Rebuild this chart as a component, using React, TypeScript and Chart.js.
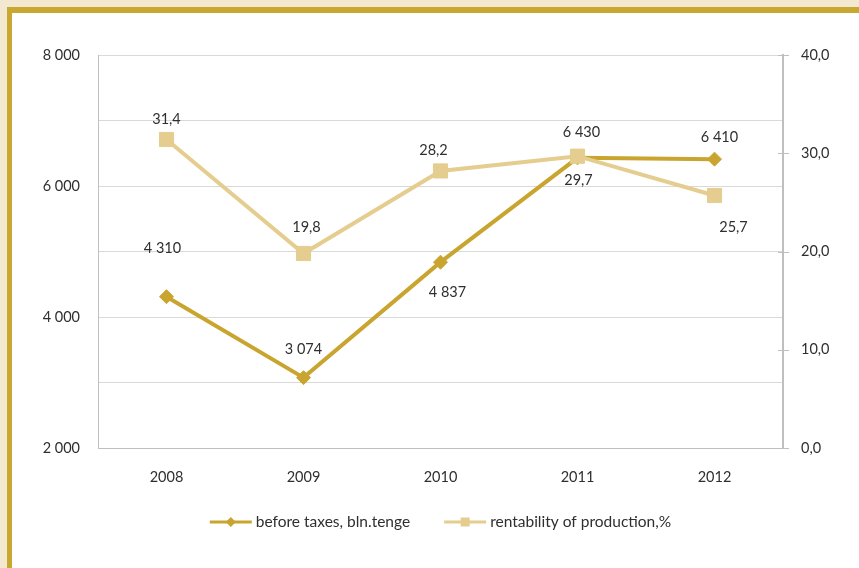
import React, { useEffect, useRef } from 'react';
import { Chart, registerables } from 'chart.js';

Chart.register(...registerables);

const years = ['2008', '2009', '2010', '2011', '2012'];
const profitBeforeTaxes = [4310, 3074, 4837, 6430, 6410];
const rentabilityPct = [31.4, 19.8, 28.2, 29.7, 25.7];
const seriesNames = ['before taxes, bln.tenge', 'rentability of production,%'];

// label offsets (px) relative to the point, style only
const profitLabelOffsets = [[-4, -48], [0, -28], [7, 30], [4, -26], [5, -22]];
const rentLabelOffsets = [[0, -20], [3, -26], [-7, -21], [1, 24], [19, 32]];

const DARK = '#C9A530';
const LIGHT = '#E4CD8E';
const TEXT = '#2f2f2f';
const FONT = 'Lato, "Noto Sans", sans-serif';

const fmtThousands = (n: number) => String(Math.round(n)).replace(/\B(?=(\d{3})+(?!\d))/g, ' ');
const fmtDec = (n: number) => n.toFixed(1).replace('.', ',');

export default function App() {
  const ref = useRef<HTMLCanvasElement | null>(null);

  useEffect(() => {
    if (!ref.current) return;

    const labelPlugin = {
      id: 'dataLabels',
      afterDatasetsDraw(chart: any) {
        const ctx = chart.ctx;
        ctx.save();
        ctx.font = `14.5px ${FONT}`;
        ctx.fillStyle = TEXT;
        ctx.textAlign = 'center';
        ctx.textBaseline = 'middle';
        chart.data.datasets.forEach((ds: any, di: number) => {
          const meta = chart.getDatasetMeta(di);
          const offs = di === 0 ? profitLabelOffsets : rentLabelOffsets;
          meta.data.forEach((el: any, i: number) => {
            const v = ds.data[i];
            const txt = di === 0 ? fmtThousands(v) : fmtDec(v);
            ctx.fillText(txt, el.x + offs[i][0], el.y + offs[i][1]);
          });
        });
        ctx.restore();
      },
      afterDraw(chart: any) {
        const ctx = chart.ctx;
        // right axis tick marks crossing the axis line
        const y1 = chart.scales.y1;
        ctx.save();
        ctx.strokeStyle = '#BFBFBF';
        ctx.lineWidth = 1;
        y1.ticks.forEach((t: any) => {
          const py = Math.round(y1.getPixelForValue(t.value)) + 0.5;
          ctx.beginPath();
          ctx.moveTo(y1.left - 5, py);
          ctx.lineTo(y1.left + 6, py);
          ctx.stroke();
        });
        // custom legend
        ctx.font = `15.5px ${FONT}`;
        ctx.textBaseline = 'middle';
        ctx.textAlign = 'left';
        const lineLen = 42;
        const gapText = 4;
        const gapItems = 34;
        const widths = seriesNames.map((s) => ctx.measureText(s).width);
        const total = widths.reduce((a, w) => a + lineLen + gapText + w, 0) + gapItems;
        const ca = chart.chartArea;
        let x = (ca.left + ca.right) / 2 - total / 2;
        const y = 522;
        seriesNames.forEach((name, i) => {
          const color = i === 0 ? DARK : LIGHT;
          ctx.strokeStyle = color;
          ctx.lineWidth = 3;
          ctx.beginPath();
          ctx.moveTo(x, y);
          ctx.lineTo(x + lineLen, y);
          ctx.stroke();
          ctx.fillStyle = color;
          const cx = x + lineLen / 2;
          if (i === 0) {
            const r = 5;
            ctx.beginPath();
            ctx.moveTo(cx - r, y);
            ctx.lineTo(cx, y - r);
            ctx.lineTo(cx + r, y);
            ctx.lineTo(cx, y + r);
            ctx.closePath();
            ctx.fill();
          } else {
            ctx.fillRect(cx - 4.5, y - 4.5, 9, 9);
          }
          ctx.fillStyle = TEXT;
          ctx.fillText(name, x + lineLen + gapText, y);
          x += lineLen + gapText + widths[i] + gapItems;
        });
        ctx.restore();
      },
    };

    const chart = new Chart(ref.current, {
      type: 'line',
      data: {
        labels: years,
        datasets: [
          {
            label: seriesNames[0],
            data: profitBeforeTaxes,
            yAxisID: 'y',
            borderColor: DARK,
            backgroundColor: DARK,
            borderWidth: 4,
            pointStyle: 'rectRot',
            pointRadius: 7,
            pointBorderWidth: 1,
            pointBorderColor: DARK,
            pointBackgroundColor: DARK,
            tension: 0,
            order: 2,
          },
          {
            label: seriesNames[1],
            data: rentabilityPct,
            yAxisID: 'y1',
            borderColor: LIGHT,
            backgroundColor: LIGHT,
            borderWidth: 4,
            pointStyle: 'rect',
            pointRadius: 10,
            pointBorderWidth: 1,
            pointBorderColor: LIGHT,
            pointBackgroundColor: LIGHT,
            tension: 0,
            order: 1,
          },
        ],
      },
      options: {
        responsive: true,
        maintainAspectRatio: false,
        animation: false,
        layout: { padding: { top: 55, left: 0, right: 0, bottom: 0 } },
        plugins: {
          legend: { display: false },
          tooltip: { enabled: false },
        },
        scales: {
          x: {
            offset: true,
            grid: { display: false, drawTicks: false },
            border: { display: true, color: '#BFBFBF', width: 1 },
            ticks: { padding: 21, color: TEXT, font: { family: FONT, size: 14.5 } },
            afterFit: (s: any) => { s.height = 120; },
          },
          y: {
            position: 'left',
            min: 2000,
            max: 8000,
            ticks: {
              stepSize: 1000,
              padding: 18,
              color: TEXT,
              font: { family: FONT, size: 14.5 },
              callback: (v: any) => (Number(v) % 2000 === 0 ? fmtThousands(Number(v)) : ''),
            },
            grid: { color: '#D9D9D9', lineWidth: 1, drawTicks: false },
            border: { display: true, color: '#BFBFBF', width: 1 },
            afterFit: (s: any) => { s.width = 98; },
          },
          y1: {
            position: 'right',
            min: 0,
            max: 40,
            ticks: {
              stepSize: 10,
              padding: 18,
              color: TEXT,
              font: { family: FONT, size: 14.5 },
              callback: (v: any) => fmtDec(Number(v)),
            },
            grid: { drawOnChartArea: false, drawTicks: false },
            border: { display: true, color: '#BFBFBF', width: 2 },
            afterFit: (s: any) => { s.width = 76; },
          },
        },
      },
      plugins: [labelPlugin],
    });

    return () => chart.destroy();
  }, []);

  return (
    <div style={{ position: 'fixed', left: 0, top: 0, width: 859, height: 568, overflow: 'hidden', background: '#F2E9D0' }}>
      <div
        style={{
          position: 'absolute',
          left: 7,
          top: 7,
          width: 900,
          height: 620,
          background: '#ffffff',
          borderTop: '6px solid #C9A832',
          borderLeft: '5px solid #C9A832',
          boxSizing: 'border-box',
        }}
      />
      <div style={{ position: 'absolute', left: 0, top: 0, width: 859, height: 568 }}>
        <canvas ref={ref} />
      </div>
    </div>
  );
}
